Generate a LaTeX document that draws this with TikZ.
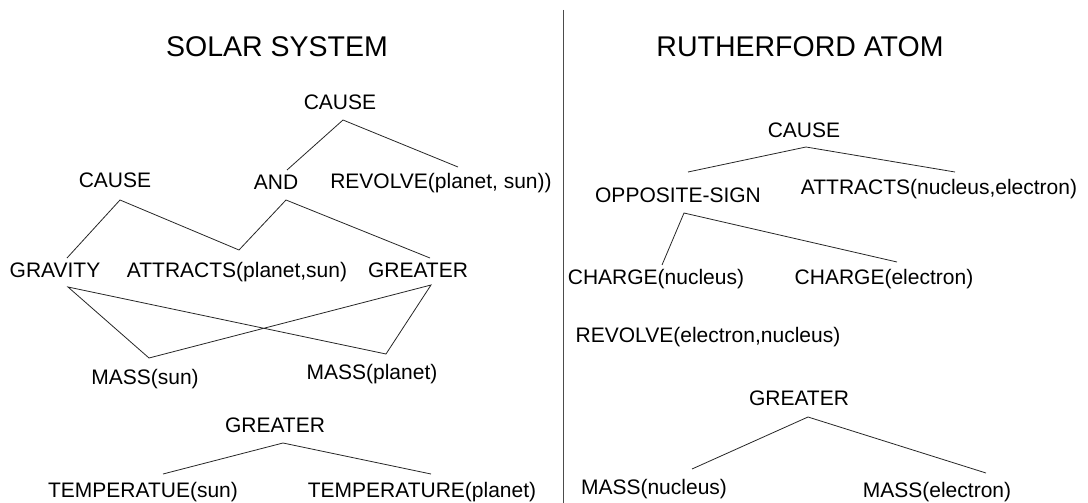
\documentclass[tikz,border=0pt]{standalone}
\usepackage{fontspec}
\setmainfont{Liberation Sans}
\begin{document}
\begin{tikzpicture}[x=1pt,y=-1pt,
  lbl/.style={anchor=base,inner sep=0pt,font=\fontsize{21}{25}\selectfont},
  ttl/.style={anchor=base,inner sep=0pt,font=\fontsize{28.5}{33}\selectfont},
  edge/.style={line width=0.8pt,draw=black!85}]
\useasboundingbox (0,0) rectangle (1088,503);
\draw[line width=0.9pt,draw=black!70] (563,10) coordinate (divtop) -- (563,503) coordinate (divbot);
% titles
\node[ttl] (tsolar) at (277,57) {SOLAR SYSTEM};
\node[ttl] (tatom) at (800,57) {RUTHERFORD ATOM};
% left side
\node[lbl] (cause1) at (340,110) {CAUSE};
\node[lbl] (cause2) at (115,187) {CAUSE};
\node[lbl] (and) at (276,189) {AND};
\node[lbl] (revolve) at (441,188) {REVOLVE(planet, sun))};
\node[lbl] (gravity) at (55,277) {GRAVITY};
\node[lbl] (attracts) at (237,277) {ATTRACTS(planet,sun)};
\node[lbl] (greater) at (418,277) {GREATER};
\node[lbl] (masssun) at (145,384) {MASS(sun)};
\node[lbl] (massplanet) at (372,379) {MASS(planet)};
\node[lbl] (greater2) at (275,432) {GREATER};
\node[lbl] (tempsun) at (143,497) {TEMPERATUE(sun)};
\node[lbl] (tempplanet) at (422,497) {TEMPERATURE(planet)};
% right side
\node[lbl] (rcause) at (804,137) {CAUSE};
\node[lbl] (opp) at (678,202) {OPPOSITE-SIGN};
\node[lbl] (rattracts) at (939,194) {ATTRACTS(nucleus,electron)};
\node[lbl] (chargen) at (656,284) {CHARGE(nucleus)};
\node[lbl] (chargee) at (884,284) {CHARGE(electron)};
\node[lbl] (rrevolve) at (708,342) {REVOLVE(electron,nucleus)};
\node[lbl] (rgreater) at (799,405) {GREATER};
\node[lbl] (massn) at (654,494) {MASS(nucleus)};
\node[lbl] (masse) at (937,497) {MASS(electron)};
% left connectors
\draw[edge] ([shift={(11,-19)}]and.base) -- ([shift={(3,10)}]cause1.base) -- ([shift={(17,-21)}]revolve.base);
\draw[edge] ([shift={(12,-19)}]gravity.base) -- ([shift={(5,13)}]cause2.base) -- ([shift={(2,-27)}]attracts.base)
  -- ([shift={(10,11)}]and.base) -- ([shift={(12,-19)}]greater.base);
\draw[edge] ([shift={(13,10)}]gravity.base) -- ([shift={(4,-26)}]masssun.base)
  -- ([shift={(13,8)}]greater.base) -- ([shift={(14,-25)}]massplanet.base) -- cycle;
\draw[edge] ([shift={(20,-23)}]tempsun.base) -- ([shift={(8,11)}]greater2.base) -- ([shift={(9,-23)}]tempplanet.base);
% right connectors
\draw[edge] ([shift={(10,-30)}]opp.base) -- ([shift={(2,10)}]rcause.base) -- ([shift={(16,-22)}]rattracts.base);
\draw[edge] ([shift={(6,-19)}]chargen.base) -- ([shift={(6,11)}]opp.base) -- ([shift={(13,-22)}]chargee.base);
\draw[edge] ([shift={(38,-25)}]massn.base) -- ([shift={(9,12)}]rgreater.base) -- ([shift={(49,-24)}]masse.base);
\end{tikzpicture}
\end{document}
